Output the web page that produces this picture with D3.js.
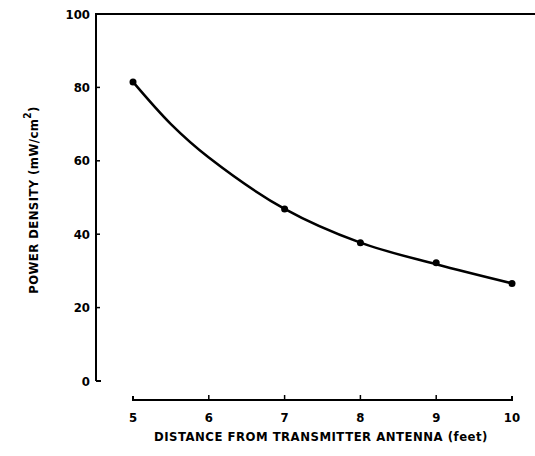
<!DOCTYPE html>
<html><head><meta charset="utf-8">
<script src="https://cdn.jsdelivr.net/npm/d3@7"></script>
<style>
body{margin:0;background:#fff;}
text{font-family:"DejaVu Sans Condensed","Liberation Sans Narrow","Liberation Sans",sans-serif;font-weight:bold;fill:#000;}
</style></head><body>
<svg id="c" width="535" height="456"></svg>
<script>
const distances = [5, 7, 8, 9, 10];
const powerDensity = [81.5, 46.9, 37.7, 32.2, 26.6];
const curveDistances = [5, 5.5, 6, 7, 8, 9, 10];
const curveValues = [81.5, 70.0, 60.9, 46.9, 37.7, 31.8, 26.6];
const xTicks = [5, 6, 7, 8, 9, 10];
const yTicks = [0, 20, 40, 60, 80, 100];
const xLabel = "DISTANCE FROM TRANSMITTER ANTENNA (feet)";
const yLabel = "POWER DENSITY (mW/cm";

const svg = d3.select("#c");
const x = d3.scaleLinear().domain([5, 10]).range([133, 512]);
const y = d3.scaleLinear().domain([0, 100]).range([381, 14]);

// left axis line + top border
svg.append("path").attr("d", `M96,${y(0)} V${y(100)} H535`)
  .attr("fill","none").attr("stroke","#000").attr("stroke-width",2);
svg.append("line").attr("x1",96).attr("x2",101).attr("y1",y(0)).attr("y2",y(0))
  .attr("stroke","#000").attr("stroke-width",2);

// y ticks
yTicks.forEach(t=>{
  svg.append("line").attr("x1",96).attr("x2",100).attr("y1",y(t)).attr("y2",y(t))
    .attr("stroke","#000").attr("stroke-width",1.5);
  svg.append("text").attr("x",90).attr("y",y(t)).attr("dy","0.36em")
    .attr("text-anchor","end").attr("font-size",13).text(t);
});

// x axis
const xa = 400;
svg.append("path").attr("d",`M${x(5)},${xa-4} V${xa} H${x(10)} V${xa-4}`)
  .attr("fill","none").attr("stroke","#000").attr("stroke-width",2);
xTicks.forEach(t=>{
  if(t>5 && t<10) svg.append("line").attr("x1",x(t)).attr("x2",x(t)).attr("y1",xa).attr("y2",xa-5)
    .attr("stroke","#000").attr("stroke-width",1.5);
  svg.append("text").attr("x",x(t)).attr("y",xa+22).attr("text-anchor","middle")
    .attr("font-size",13).text(t);
});

// curve
const cpts = curveDistances.map((d,i)=>[d, curveValues[i]]);
svg.append("path").datum(cpts)
  .attr("d", d3.line().x(d=>x(d[0])).y(d=>y(d[1])).curve(d3.curveCatmullRom.alpha(0.5)))
  .attr("fill","none").attr("stroke","#000").attr("stroke-width",2.5);
const pts = distances.map((d,i)=>[d, powerDensity[i]]);
svg.selectAll("circle.p").data(pts).enter().append("circle")
  .attr("cx",d=>x(d[0])).attr("cy",d=>y(d[1])).attr("r",3.5).attr("fill","#000");

// labels
svg.append("text").attr("x",321).attr("y",441).attr("text-anchor","middle")
  .attr("font-size",13).attr("letter-spacing","0.5").text(xLabel);
const yl = svg.append("text").attr("transform","translate(38,200) rotate(-90)")
  .attr("text-anchor","middle").attr("font-size",13).attr("letter-spacing","0.4");
yl.append("tspan").text(yLabel);
yl.append("tspan").attr("dy",-7).attr("font-size",10).text("2");
yl.append("tspan").attr("dy",7).text(")");
</script></body></html>
